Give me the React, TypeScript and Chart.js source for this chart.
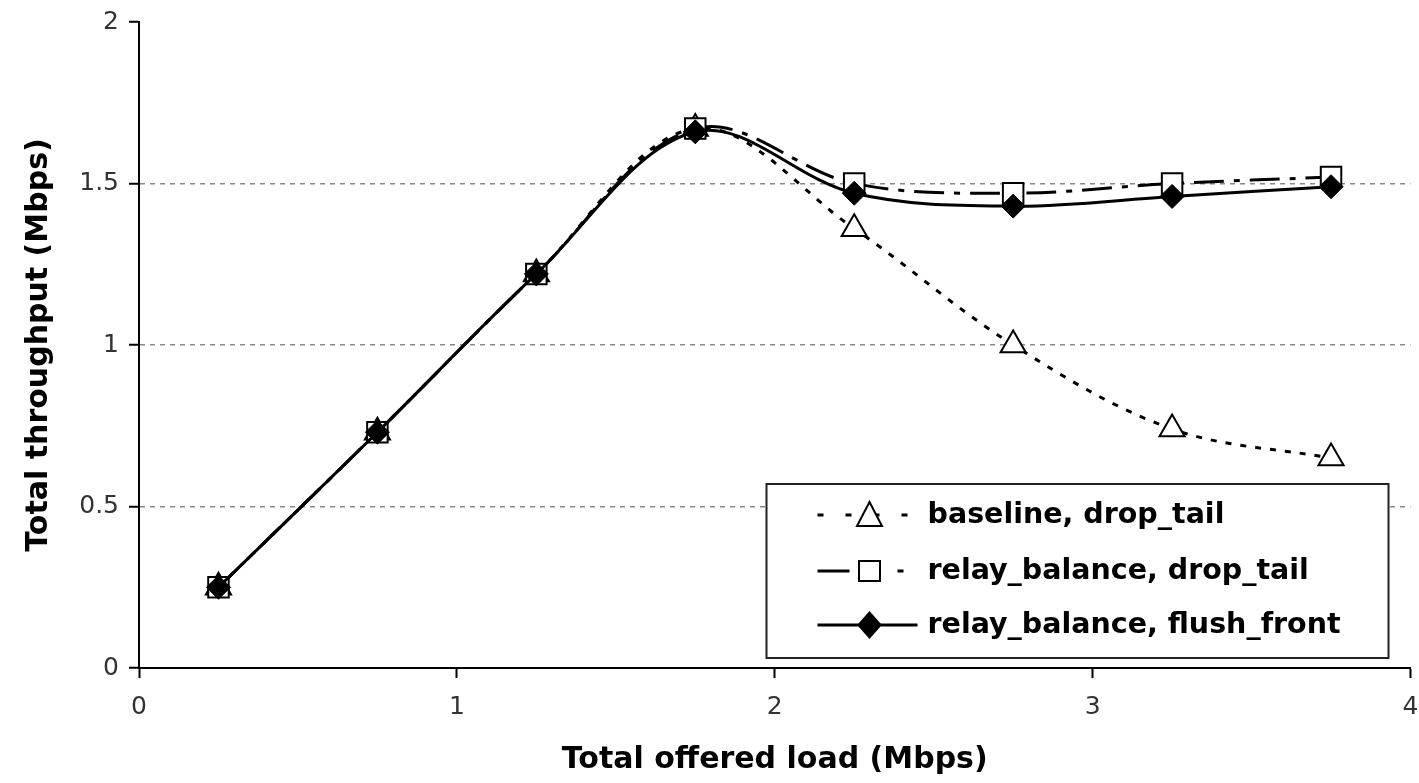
import React, { useEffect, useRef } from 'react';
import { Chart, registerables } from 'chart.js';

Chart.register(...registerables);

// ---- data ----
const loads = [0.25, 0.75, 1.25, 1.75, 2.25, 2.75, 3.25, 3.75];
const baselineDropTail = [0.25, 0.73, 1.22, 1.67, 1.36, 1.0, 0.74, 0.65];
const relayDropTail = [0.25, 0.73, 1.22, 1.67, 1.5, 1.47, 1.5, 1.52];
const relayFlushFront = [0.25, 0.73, 1.22, 1.66, 1.47, 1.43, 1.46, 1.49];
const seriesLabels = ['baseline, drop_tail', 'relay_balance, drop_tail', 'relay_balance, flush_front'];
const xMin = 0;
const xMax = 4;
const xStep = 1;
const yMin = 0;
const yMax = 2;
const yStep = 0.5;
const yGridValues = [0.5, 1, 1.5];
const xTitle = 'Total offered load (Mbps)';
const yTitle = 'Total throughput (Mbps)';

const toPoints = (ys: number[]) => loads.map((x, i) => ({ x, y: ys[i] }));

function drawMarker(ctx: CanvasRenderingContext2D, style: string, cx: number, cy: number, fill: string) {
  ctx.save();
  ctx.setLineDash([]);
  ctx.lineWidth = 2;
  ctx.strokeStyle = '#000';
  ctx.fillStyle = fill;
  ctx.beginPath();
  if (style === 'triangle') {
    ctx.moveTo(cx, cy - 13);
    ctx.lineTo(cx + 12.5, cy + 11);
    ctx.lineTo(cx - 12.5, cy + 11);
    ctx.closePath();
  } else if (style === 'rect') {
    ctx.rect(cx - 10.5, cy - 10, 21, 20);
  } else {
    ctx.moveTo(cx, cy - 12.5);
    ctx.lineTo(cx + 11, cy);
    ctx.lineTo(cx, cy + 12.5);
    ctx.lineTo(cx - 11, cy);
    ctx.closePath();
  }
  ctx.fill();
  ctx.stroke();
  ctx.restore();
}

const legendDashes = [[6, 22], [32, 48, 6, 60], []];

const insideLegend = {
  id: 'insideLegend',
  afterDatasetsDraw(chart: any) {
    const { ctx, chartArea } = chart;
    const w = 622;
    const h = 174;
    const left = chartArea.right - 22 - w;
    const top = chartArea.bottom - 10 - h;
    ctx.save();
    ctx.fillStyle = '#ffffff';
    ctx.fillRect(left, top, w, h);
    ctx.lineWidth = 2;
    ctx.strokeStyle = '#222';
    ctx.strokeRect(left, top, w, h);
    const rowOffsets = [31, 87, 141];
    chart.data.datasets.forEach((ds: any, i: number) => {
      const cy = top + rowOffsets[i];
      ctx.save();
      ctx.beginPath();
      ctx.lineWidth = 3;
      ctx.strokeStyle = '#000';
      ctx.setLineDash(legendDashes[i]);
      ctx.moveTo(left + 51, cy);
      ctx.lineTo(left + 151, cy);
      ctx.stroke();
      ctx.restore();
      drawMarker(ctx, ds.pointStyle, left + 103, cy, ds.pointBackgroundColor);
      ctx.fillStyle = '#000';
      ctx.font = 'bold 28.5px "DejaVu Sans"';
      ctx.textBaseline = 'middle';
      ctx.textAlign = 'left';
      ctx.fillText(ds.label, left + 161, cy + 1);
    });
    ctx.restore();
  },
};

const CANVAS_W = 1427;
const CANVAS_H = 783;

export default function App() {
  const ref = useRef<HTMLCanvasElement | null>(null);

  useEffect(() => {
    document.body.style.margin = '0';
    document.body.style.overflow = 'hidden';
    const canvas = ref.current;
    if (!canvas) return;
    const chart = new Chart(canvas, {
      type: 'line',
      data: {
        datasets: [
          {
            label: seriesLabels[0],
            data: toPoints(baselineDropTail),
            borderColor: '#000',
            borderWidth: 3,
            borderDash: [6, 9],
            pointStyle: 'triangle',
            pointRadius: 14.5,
            pointBorderWidth: 2,
            pointBorderColor: '#000',
            pointBackgroundColor: '#ffffff',
            tension: 0.35,
            order: 2,
          },
          {
            label: seriesLabels[1],
            data: toPoints(relayDropTail),
            borderColor: '#000',
            borderWidth: 3,
            borderDash: [30, 10, 6, 10],
            pointStyle: 'rect',
            pointRadius: 14.5,
            pointBorderWidth: 2,
            pointBorderColor: '#000',
            pointBackgroundColor: '#ffffff',
            tension: 0.35,
            order: 1,
          },
          {
            label: seriesLabels[2],
            data: toPoints(relayFlushFront),
            borderColor: '#000',
            borderWidth: 3,
            pointStyle: 'rectRot',
            pointRadius: 12,
            pointBorderWidth: 1,
            pointBorderColor: '#000',
            pointBackgroundColor: '#000000',
            tension: 0.35,
            order: 0,
          },
        ],
      },
      options: {
        animation: false,
        responsive: false,
        maintainAspectRatio: false,
        layout: { padding: { left: 0, right: 0, top: 0, bottom: 0 } },
        plugins: {
          legend: { display: false },
          tooltip: { enabled: false },
          title: { display: false },
        },
        scales: {
          x: {
            type: 'linear',
            min: xMin,
            max: xMax,
            afterFit: (scale: any) => {
              scale.height = 115;
              scale.paddingLeft = 0;
              scale.paddingRight = 1;
            },
            ticks: {
              stepSize: xStep,
              color: '#333',
              font: { family: '"DejaVu Sans"', size: 25 },
              padding: 14,
              callback: (v: any) => String(v),
            },
            grid: {
              drawOnChartArea: false,
              drawTicks: true,
              tickLength: 10,
              tickWidth: 2,
              tickColor: '#000',
            },
            border: { display: true, color: '#000', width: 2 },
            title: {
              display: true,
              text: xTitle,
              color: '#000',
              font: { family: '"DejaVu Sans"', size: 30, weight: 'bold' },
              padding: { top: 0, bottom: 5 },
            },
          },
          y: {
            type: 'linear',
            min: yMin,
            max: yMax,
            afterFit: (scale: any) => {
              scale.width = 139;
              scale.paddingTop = 22;
              scale.paddingBottom = 0;
            },
            ticks: {
              stepSize: yStep,
              color: '#333',
              font: { family: '"DejaVu Sans"', size: 25 },
              padding: 10,
              callback: (v: any) => String(v),
            },
            grid: {
              drawTicks: true,
              tickLength: 10,
              tickWidth: 2,
              tickColor: '#000',
              lineWidth: 1.5,
              color: (c: any) => (yGridValues.includes(c.tick?.value) ? '#8a8a8a' : 'rgba(0,0,0,0)'),
            },
            border: { display: true, color: '#000', width: 2, dash: [5, 5] },
            title: {
              display: true,
              text: yTitle,
              color: '#000',
              font: { family: '"DejaVu Sans"', size: 30, weight: 'bold' },
              padding: { top: 21, bottom: 0 },
            },
          },
        },
      },
      plugins: [insideLegend],
    });
    return () => chart.destroy();
  }, []);

  return (
    <div style={{ position: 'fixed', left: 0, top: 0, width: 1419, height: 783, overflow: 'hidden', background: '#fff' }}>
      <canvas
        ref={ref}
        width={CANVAS_W}
        height={CANVAS_H}
        style={{ width: CANVAS_W, height: CANVAS_H, display: 'block' }}
      />
    </div>
  );
}
